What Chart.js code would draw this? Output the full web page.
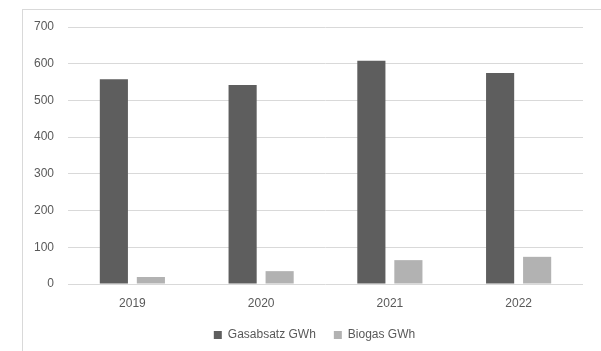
<!DOCTYPE html>
<html>
<head>
<meta charset="utf-8">
<script src="https://cdn.jsdelivr.net/npm/chart.js@4"></script>
<style>
  html, body { margin: 0; padding: 0; background: #fff; }
  #wrap { position: relative; width: 601px; height: 351px; overflow: hidden; }
  #frame { position: absolute; left: 22px; top: 9px; right: -2px; bottom: -2px;
           border-left: 1px solid #d9d9d9; border-top: 1px solid #d9d9d9; }
  canvas { position: absolute; left: 0; top: 0; }
</style>
</head>
<body>
<div id="wrap">
  <div id="frame"></div>
  <canvas id="gasChart" width="601" height="351"></canvas>
</div>
<script>
const years = ['2019', '2020', '2021', '2022'];
const gasabsatz = [558, 542, 608, 575];
const biogas = [19, 35, 65, 74];
const yTicks = [0, 100, 200, 300, 400, 500, 600, 700];

Chart.defaults.font.family = '"Liberation Sans", Arial, sans-serif';
Chart.defaults.font.size = 12;
Chart.defaults.color = '#595959';

// legend sits centred under the plot area, not under the whole canvas
const shiftLegend = {
    id: 'shiftLegend',
    afterLayout(chart) { chart.legend.left = chart.chartArea.left - 22; }
};

const ctx = document.getElementById('gasChart').getContext('2d');
const gasChart = new Chart(ctx, {
    type: 'bar',
    data: {
        labels: years,
        datasets: [
            { label: 'Gasabsatz GWh', data: gasabsatz, backgroundColor: '#5e5e5e', barPercentage: 0.76, categoryPercentage: 0.575 },
            { label: 'Biogas GWh', data: biogas, backgroundColor: '#b2b2b2', barPercentage: 0.76, categoryPercentage: 0.575 }
        ]
    },
    options: {
        responsive: false, animation: false,
        layout: { padding: { top: 27, right: 18, bottom: 0, left: 0 } },
        plugins: {
            tooltip: { enabled: false },
            legend: {
                position: 'bottom',
                labels: { boxWidth: 8, boxHeight: 8, padding: 18, color: '#595959' }
            }
        },
        scales: {
            x: {
                grid: { display: false },
                border: { display: false },
                ticks: { padding: 4 },
                afterFit: s => { s.height = 27; }
            },
            y: {
                min: 0, max: 700,
                afterBuildTicks: s => { s.ticks = yTicks.map(v => ({ value: v })); },
                afterFit: s => { s.width = 68; },
                grid: { color: '#d9d9d9', drawTicks: false },
                border: { display: false },
                ticks: { padding: 14 }
            }
        }
    },
    plugins: [shiftLegend]
});
</script>
</body>
</html>
